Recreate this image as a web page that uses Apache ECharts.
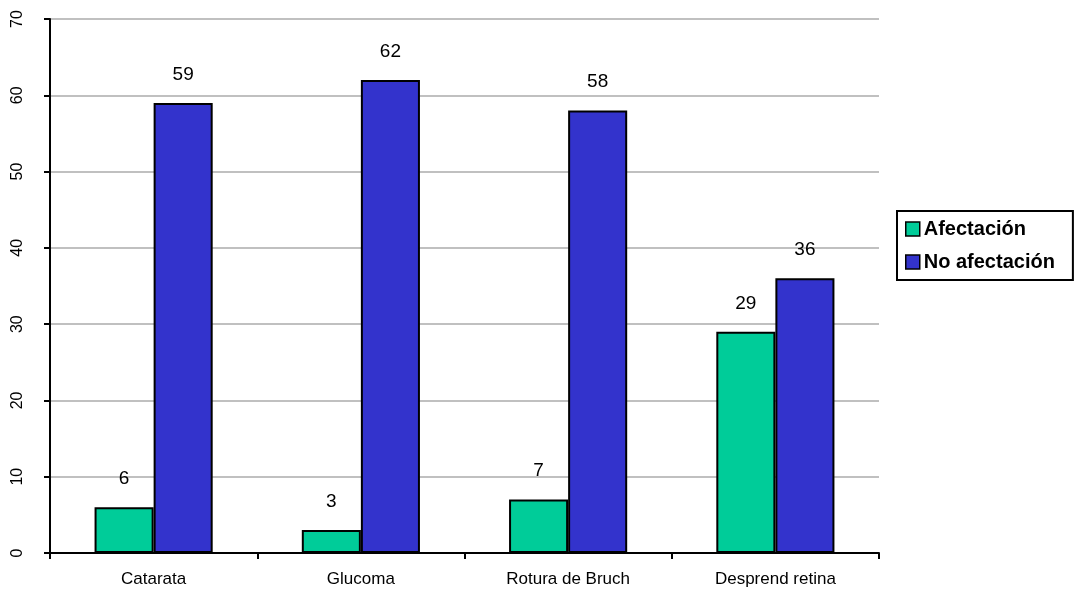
<!DOCTYPE html>
<html>
<head>
<meta charset="utf-8">
<script src="https://cdn.jsdelivr.net/npm/echarts@6/dist/echarts.min.js"></script>
<style>
  html, body { margin: 0; padding: 0; background: #fff; }
  #chart { width: 1079px; height: 592px; }
</style>
</head>
<body>
<div id="chart"></div>
<script>
// Categories and values per group
const categories = ['Catarata', 'Glucoma', 'Rotura de Bruch', 'Desprend retina'];
const afectacion = [6, 3, 7, 29];
const noAfectacion = [59, 62, 58, 36];
const seriesNames = ['Afectación', 'No afectación'];

const font = 'Arial, "Liberation Sans", sans-serif';

const chart = echarts.init(document.getElementById('chart'), null, { renderer: 'canvas' });

const labelStyle = {
  show: true,
  position: 'top',
  distance: 19,
  color: '#000',
  fontFamily: font,
  fontSize: 19
};

chart.setOption({
  animation: false,
  backgroundColor: '#fff',
  grid: { left: 50, right: 200, top: 19, bottom: 39, containLabel: false },
  legend: {
    orient: 'vertical',
    left: 897,
    top: 211,
    padding: [8, 18, 8, 8],
    itemGap: 13,
    itemWidth: 14,
    itemHeight: 14,
    icon: 'rect',
    borderColor: '#000',
    borderWidth: 2,
    borderRadius: 0,
    itemStyle: { borderColor: '#000', borderWidth: 1.5 },
    textStyle: { fontFamily: font, fontSize: 20, fontWeight: 'bold', color: '#000', padding: [0, 0, 0, -1] },
    data: seriesNames
  },
  xAxis: {
    type: 'category',
    data: categories,
    axisLine: { lineStyle: { color: '#000', width: 2 } },
    axisTick: { show: true, length: 6, lineStyle: { color: '#000', width: 2 } },
    axisLabel: { color: '#000', fontFamily: font, fontSize: 17, margin: 18 },
    splitLine: { show: false }
  },
  yAxis: {
    type: 'value',
    min: 0,
    max: 70,
    interval: 10,
    axisLine: { show: true, lineStyle: { color: '#000', width: 2 } },
    axisTick: { show: true, length: 6, lineStyle: { color: '#000', width: 2 } },
    axisLabel: { color: '#000', fontFamily: font, fontSize: 16, rotate: 90, margin: 24 },
    splitLine: { lineStyle: { color: '#c0c0c0', width: 2 } }
  },
  series: [
    {
      name: seriesNames[0],
      type: 'bar',
      data: afectacion,
      barGap: '0%',
      barCategoryGap: '43%',
      itemStyle: { color: '#00cc99', borderColor: '#000', borderWidth: 2 },
      label: labelStyle
    },
    {
      name: seriesNames[1],
      type: 'bar',
      data: noAfectacion,
      barGap: '0%',
      barCategoryGap: '43%',
      itemStyle: { color: '#3333cc', borderColor: '#000', borderWidth: 2 },
      label: labelStyle
    }
  ]
});
</script>
</body>
</html>
